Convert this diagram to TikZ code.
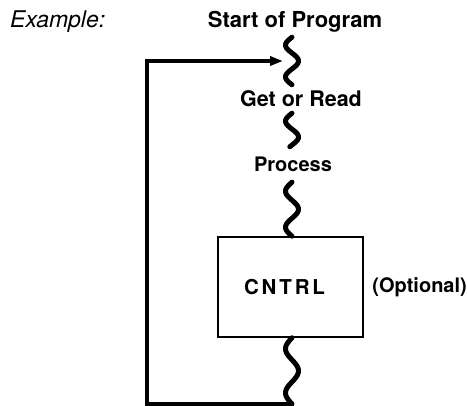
\documentclass[tikz,border=0pt]{standalone}
\usepackage{fontspec}
\setmainfont{TeX Gyre Heros}
\usetikzlibrary{arrows.meta,calc}
\begin{document}
\begin{tikzpicture}[x=1pt,y=-1pt,
  lbl/.style={font=\bfseries\fontsize{22}{24}\selectfont, inner xsep=0pt, anchor=base},
  squig/.style={line width=5pt, line cap=round, line join=round},
  loopline/.style={line width=3.2pt},
]
\useasboundingbox (0,0) rectangle (467,406);
\node[font=\itshape\fontsize{23}{24}\selectfont, anchor=base west, inner sep=0pt] (ex) at (10,28) {Example:};
\node[lbl, text depth=5pt, inner ysep=4pt] (start) at (295,28) {Start of Program};
\node[lbl, font=\bfseries\fontsize{21.5}{24}\selectfont, text height=16pt, text depth=0pt, inner ysep=6pt] (get) at (301,107) {Get or Read};
\node[lbl, font=\bfseries\fontsize{20}{22}\selectfont, text height=17pt, text depth=2pt, inner ysep=8pt] (proc) at (293,172) {Process};
\node[draw, line width=1.5pt, minimum width=145pt, minimum height=100pt, inner sep=0pt,
      font=\bfseries\fontsize{20.5}{22}\selectfont] (box) at (290.5,287) {\addfontfeature{LetterSpace=14}CNTRL\hspace*{12pt}};
\node[lbl, font=\bfseries\fontsize{20}{22}\selectfont, anchor=base east] (opt) at (467,293) {(Optional)};
\coordinate (axis) at (292,0);
\coordinate (bot) at (292,404);
\coordinate (in) at (283,61);
\draw[squig] let \p1=(start.south -| axis), \p2=(get.north -| axis) in
  plot[variable=\t, domain=0:1, samples=60, smooth] ({\x1-6.5pt*sin(540*\t)}, {\y1+(\y2-\y1)*\t});
\draw[squig] let \p1=(get.south -| axis), \p2=(proc.north -| axis) in
  plot[variable=\t, domain=0:1, samples=60, smooth] ({\x1-6.5pt*sin(380*\t)}, {\y1+(\y2-\y1)*\t});
\draw[squig] let \p1=(proc.south -| axis), \p2=(box.north -| axis) in
  plot[variable=\t, domain=0:1, samples=60, smooth] ({\x1-6.5pt*sin(540*\t)}, {\y1+(\y2-\y1)*\t});
\draw[squig] let \p1=(box.south -| axis), \p2=(bot) in
  plot[variable=\t, domain=0:1, samples=60, smooth] ({\x1-6.5pt*sin(540*\t)}, {\y1+(\y2-\y1)*\t});
\draw[loopline, -{Triangle[length=13pt,width=9pt]}] (bot) -- ++(-145,0) |- (in);
\end{tikzpicture}
\end{document}
